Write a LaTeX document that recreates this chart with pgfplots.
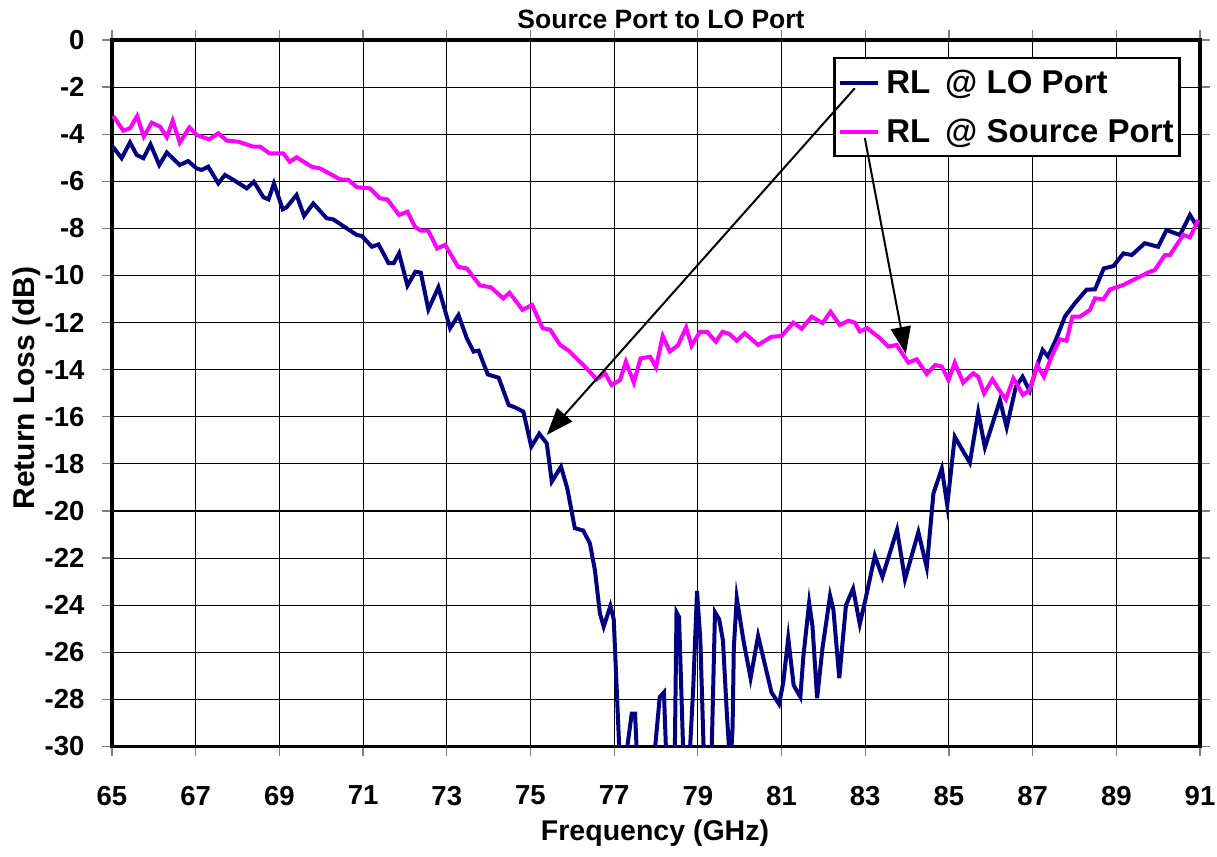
\documentclass[border=0pt]{standalone}
\usepackage{fontspec}
\setmainfont{Liberation Sans}
\usepackage{pgfplots}
\pgfplotsset{compat=1.18}
\usetikzlibrary{arrows.meta}
\definecolor{lonavy}{RGB}{0,0,128}
\definecolor{srcmag}{RGB}{255,0,255}
\begin{document}
\begin{tikzpicture}[x=1pt,y=1pt]
\useasboundingbox (0,0) rectangle (1217,856);
\begin{axis}[
  at={(112pt,109.5pt)}, anchor=south west,
  scale only axis, width=1088pt, height=706.5pt,
  xmin=65, xmax=91, ymin=-30, ymax=0,
  xtick={65,67,...,91}, ytick={-30,-28,...,0},
  grid=major, major grid style={black, line width=1.1pt},
  axis line style={black, line width=3.5pt},
  tick align=outside, major tick length=10pt,
  tick style={gray, line width=1.2pt},
  /pgf/number format/assume math mode=true,
  ticklabel style={font=\bfseries\fontsize{27.5}{27.5}\selectfont},
  xticklabel style={yshift=-26pt},
  yticklabel style={xshift=-14pt},
  legend style={at={(0.6627,0.976)}, anchor=north west, draw=black, line width=2.5pt, fill=white,
    font=\bfseries\fontsize{33}{33}\selectfont, inner xsep=4pt, inner ysep=10pt, row sep=20pt,
    cells={anchor=west}},
  legend image code/.code={\draw[line width=4pt] (0pt,0pt) -- (38pt,0pt);},
]
\addplot[lonavy, line width=4pt] coordinates {
(65.02,-4.53) (65.23,-5.02) (65.43,-4.35) (65.59,-4.88) (65.75,-5.02) (65.92,-4.43)
(66.13,-5.31) (66.31,-4.78) (66.62,-5.31) (66.82,-5.14) (67.02,-5.45) (67.14,-5.52)
(67.30,-5.38) (67.54,-6.09) (67.70,-5.73) (67.90,-5.94) (68.22,-6.30) (68.39,-6.02)
(68.62,-6.68) (68.74,-6.77) (68.87,-6.09) (69.08,-7.19) (69.17,-7.11) (69.41,-6.58)
(69.59,-7.47) (69.81,-6.94) (70.13,-7.57) (70.29,-7.62) (70.61,-8.00) (70.85,-8.28)
(70.97,-8.32) (71.21,-8.78) (71.37,-8.68) (71.61,-9.48) (71.73,-9.48) (71.86,-9.06)
(72.06,-10.43) (72.25,-9.84) (72.38,-9.88) (72.56,-11.44) (72.80,-10.50) (73.08,-12.24)
(73.28,-11.68) (73.48,-12.67) (73.64,-13.23) (73.76,-13.19) (73.98,-14.20) (74.24,-14.34)
(74.48,-15.50) (74.63,-15.60) (74.83,-15.78) (75.02,-17.27) (75.21,-16.72) (75.39,-17.13)
(75.51,-18.75) (75.73,-18.12) (75.88,-19.04) (76.06,-20.73) (76.26,-20.83) (76.42,-21.37)
(76.54,-22.51) (76.66,-24.35) (76.75,-24.91) (76.91,-24.03) (76.99,-24.60) (77.12,-30.0)
(77.20,-32) (77.28,-31) (77.30,-30.2) (77.42,-28.6) (77.50,-28.6) (77.54,-30.2)
(77.60,-33) (77.90,-33) (77.97,-30.2) (78.09,-27.9) (78.19,-27.7) (78.24,-30.2)
(78.32,-33) (78.40,-33) (78.45,-30.2) (78.49,-24.3) (78.55,-24.5) (78.65,-30.2)
(78.72,-33) (78.78,-32) (78.81,-30.2) (78.89,-27.5) (78.98,-23.4) (79.06,-25.5)
(79.14,-30.2) (79.22,-33) (79.28,-32) (79.33,-30.2) (79.41,-24.3) (79.51,-24.6)
(79.60,-25.5) (79.69,-28.5) (79.75,-30.2) (79.79,-30.5) (79.83,-29.2) (79.86,-25.8)
(79.93,-23.7) (80.09,-25.5) (80.26,-27.1) (80.44,-25.3) (80.56,-26.2) (80.76,-27.7)
(80.94,-28.2) (81.04,-27.3) (81.16,-25.4) (81.29,-27.4) (81.45,-27.9) (81.52,-26.2)
(81.66,-23.9) (81.74,-24.9) (81.85,-27.95) (81.98,-25.8) (82.16,-23.6) (82.24,-24.2)
(82.38,-27.1) (82.54,-24.0) (82.71,-23.3) (82.87,-24.8) (83.00,-23.8) (83.23,-21.9)
(83.41,-22.8) (83.76,-20.8) (83.95,-22.9) (84.27,-20.9) (84.47,-22.4) (84.63,-19.25)
(84.83,-18.2) (84.96,-19.75) (85.14,-16.85) (85.50,-17.95) (85.70,-15.8) (85.86,-17.3)
(86.22,-15.3) (86.38,-16.45) (86.60,-14.72) (86.76,-14.3) (86.93,-14.9) (87.10,-13.87)
(87.24,-13.16) (87.37,-13.45) (87.57,-12.67) (87.77,-11.75) (88.01,-11.18) (88.29,-10.6)
(88.49,-10.59) (88.70,-9.7) (88.93,-9.6) (89.17,-9.06) (89.37,-9.13) (89.68,-8.63)
(90.00,-8.78) (90.20,-8.07) (90.52,-8.28) (90.76,-7.43) (90.88,-7.78) (91.0,-7.9)
};
\addlegendentry{\hspace{4pt}RL\hspace{15pt}@ LO Port}
\addplot[srcmag, line width=4pt] coordinates {
(65.03,-3.23) (65.27,-3.85) (65.43,-3.75) (65.60,-3.23) (65.76,-4.10) (65.95,-3.51)
(66.15,-3.68) (66.31,-4.13) (66.45,-3.43) (66.62,-4.36) (66.85,-3.71) (67.02,-4.03)
(67.32,-4.22) (67.54,-3.96) (67.74,-4.27) (68.02,-4.32) (68.38,-4.53) (68.54,-4.53)
(68.76,-4.81) (69.09,-4.81) (69.25,-5.17) (69.41,-4.98) (69.77,-5.38) (69.97,-5.45)
(70.45,-5.92) (70.65,-5.94) (70.85,-6.25) (71.16,-6.30) (71.40,-6.72) (71.58,-6.77)
(71.86,-7.43) (72.06,-7.29) (72.24,-7.93) (72.38,-8.10) (72.56,-8.10) (72.77,-8.85)
(72.96,-8.70) (73.27,-9.63) (73.48,-9.70) (73.79,-10.42) (74.05,-10.50) (74.35,-10.97)
(74.50,-10.73) (74.81,-11.46) (75.04,-11.25) (75.29,-12.24) (75.47,-12.30) (75.71,-12.95)
(75.91,-13.19) (76.10,-13.52) (76.34,-13.94) (76.58,-14.41) (76.78,-14.15) (76.94,-14.65)
(77.14,-14.44) (77.28,-13.66) (77.47,-14.55) (77.63,-13.52) (77.86,-13.45) (78.00,-13.90)
(78.16,-12.57) (78.33,-13.23) (78.53,-12.95) (78.72,-12.20) (78.85,-12.99) (79.05,-12.39)
(79.22,-12.39) (79.43,-12.81) (79.59,-12.39) (79.75,-12.48) (79.93,-12.77) (80.12,-12.45)
(80.44,-12.95) (80.76,-12.60) (81.00,-12.57) (81.28,-12.00) (81.48,-12.26) (81.72,-11.75)
(81.98,-12.02) (82.17,-11.54) (82.39,-12.10) (82.60,-11.92) (82.75,-12.0) (82.87,-12.37)
(83.05,-12.24) (83.33,-12.63) (83.55,-13.02) (83.75,-12.95) (84.03,-13.70) (84.23,-13.56)
(84.47,-14.18) (84.67,-13.80) (84.83,-13.87) (84.99,-14.44) (85.14,-13.70) (85.34,-14.55)
(85.58,-14.15) (85.70,-14.30) (85.84,-15.0) (86.04,-14.41) (86.20,-14.86) (86.36,-15.26)
(86.54,-14.37) (86.77,-15.07) (86.93,-14.86) (87.11,-13.80) (87.27,-14.30) (87.45,-13.45)
(87.65,-12.71) (87.81,-12.77) (87.95,-11.75) (88.13,-11.75) (88.37,-11.46) (88.49,-10.97)
(88.69,-11.01) (88.85,-10.59) (89.17,-10.40) (89.48,-10.12) (89.80,-9.84) (89.92,-9.77)
(90.16,-9.13) (90.28,-9.13) (90.60,-8.28) (90.76,-8.38) (90.96,-7.64)
};
\addlegendentry{\hspace{4pt}RL\hspace{15pt}@ Source Port}
\coordinate (a1s) at (axis cs:82.75,-2.05);
\coordinate (a1e) at (axis cs:75.39,-16.77);
\coordinate (a2s) at (axis cs:82.99,-4.16);
\coordinate (a2e) at (axis cs:83.97,-13.33);
\end{axis}
\draw[-{Triangle[length=27pt,width=20pt]}, line width=2pt] (a1s) -- (a1e);
\draw[-{Triangle[length=27pt,width=20pt]}, line width=2pt] (a2s) -- (a2e);
\node[font=\bfseries\fontsize{26.5}{26.5}\selectfont] at (661,837) {Source Port to LO Port};
\node[font=\bfseries\fontsize{28.5}{28.5}\selectfont] at (655,23) {Frequency (GHz)};
\node[rotate=90, font=\bfseries\fontsize{30}{30}\selectfont] at (27,468) {Return Loss (dB)};
\end{tikzpicture}
\end{document}
